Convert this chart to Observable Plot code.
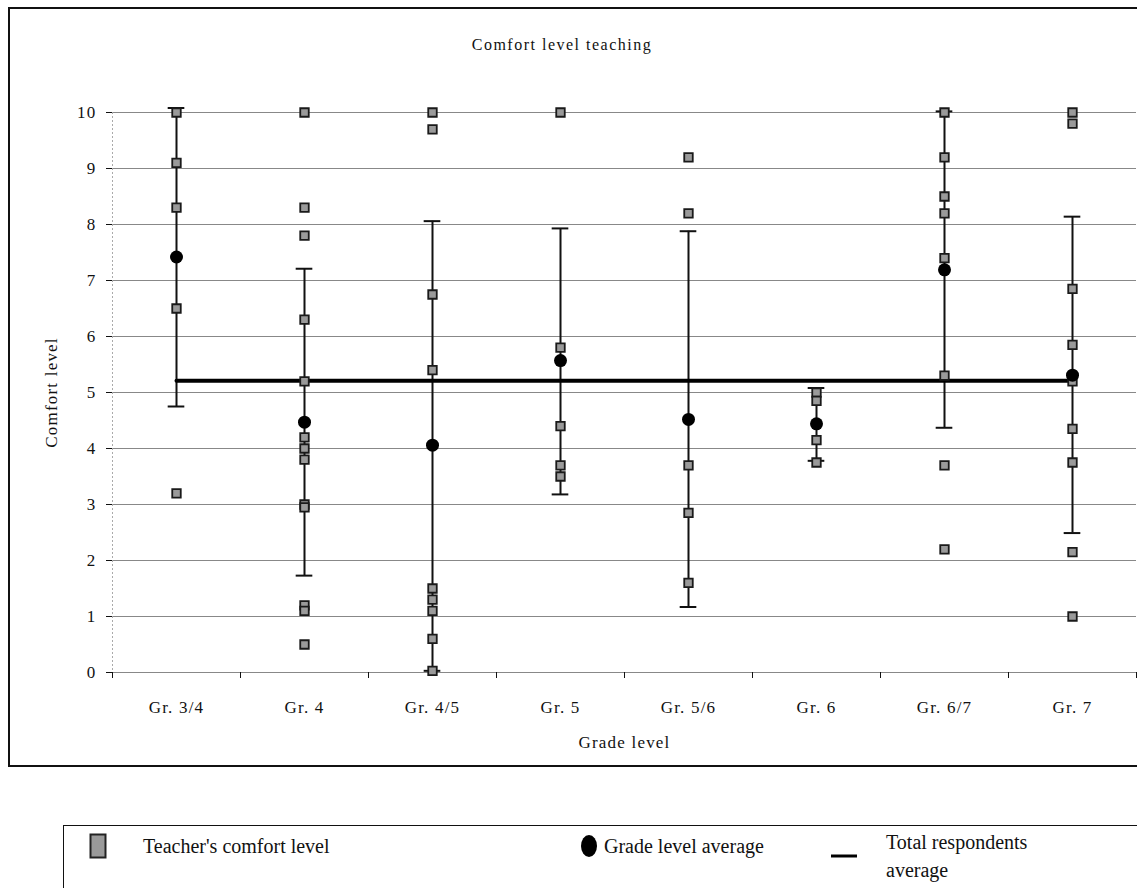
<!DOCTYPE html>
<html><head><meta charset="utf-8">
<script src="https://cdn.jsdelivr.net/npm/d3@7"></script>
<script src="https://cdn.jsdelivr.net/npm/@observablehq/plot@0.6"></script>
<style>
body{margin:0;background:#fff;font-family:"Liberation Serif","Times New Roman",serif;color:#111;}
#page{position:relative;width:1137px;height:888px;overflow:hidden;background:#fff;}
#frame{position:absolute;left:8px;top:7px;width:1150px;height:760px;border:2px solid #111;box-sizing:border-box;}
#title{position:absolute;left:0;width:1124px;top:36px;text-align:center;font-size:16px;letter-spacing:1.5px;}
#chart{position:absolute;left:0;top:0;}
#legend{position:absolute;left:63px;top:825px;width:1100px;height:90px;border:1.5px solid #111;box-sizing:border-box;font-size:20px;}
.li{position:absolute;line-height:28px;}
</style></head>
<body><div id="page">
<div id="frame"></div>
<div id="title">Comfort level teaching</div>
<div id="chart"></div>
<div id="legend">
  <svg style="position:absolute;left:25px;top:7px" width="20" height="28"><rect x="1.5" y="1.5" width="15" height="23" fill="#9a9a9a" stroke="#222" stroke-width="2"/></svg>
  <div class="li" style="left:79px;top:6px">Teacher's comfort level</div>
  <svg style="position:absolute;left:516px;top:7px" width="20" height="28"><ellipse cx="9" cy="13" rx="8" ry="11" fill="#000"/></svg>
  <div class="li" style="left:540px;top:6px">Grade level average</div>
  <svg style="position:absolute;left:767px;top:25px" width="30" height="10"><line x1="0" y1="5" x2="26" y2="5" stroke="#000" stroke-width="3"/></svg>
  <div class="li" style="left:822px;top:2px">Total respondents<br>average</div>
</div>
</div>
<script>
const categories = ["Gr. 3/4","Gr. 4","Gr. 4/5","Gr. 5","Gr. 5/6","Gr. 6","Gr. 6/7","Gr. 7"];
const gr34 = [10, 9.1, 8.3, 6.5, 3.2];
const gr4 = [10, 8.3, 7.8, 6.3, 5.2, 4.2, 4.0, 3.8, 3.0, 2.95, 1.2, 1.1, 0.5];
const gr45 = [10, 9.7, 6.75, 5.4, 1.5, 1.3, 1.1, 0.6, 0.03];
const gr5 = [10, 5.8, 4.4, 3.7, 3.5];
const gr56 = [9.2, 8.2, 3.7, 2.85, 1.6];
const gr6 = [5.0, 4.85, 4.15, 3.75];
const gr67 = [10, 9.2, 8.5, 8.2, 7.4, 5.3, 3.7, 2.2];
const gr7 = [10, 9.8, 6.85, 5.85, 5.2, 4.35, 3.75, 2.15, 1.0];
const gradeAverage = [7.42, 4.47, 4.06, 5.57, 4.52, 4.44, 7.19, 5.31];
const errorLow = [4.75, 1.73, 0.03, 3.18, 1.17, 3.78, 4.37, 2.49];
const errorHigh = [10.08, 7.21, 8.06, 7.93, 7.88, 5.08, 10.02, 8.14];
const totalAverage = 5.21;
const yTicks = [0,1,2,3,4,5,6,7,8,9,10];

const groups = [gr34, gr4, gr45, gr5, gr56, gr6, gr67, gr7];
const pos = c => categories.indexOf(c) + 0.5;
const teacherRows = [];
groups.forEach((arr, i) => arr.forEach(v => teacherRows.push({grade: categories[i], value: v})));
const summary = categories.map((c, i) => ({grade: c, avg: gradeAverage[i], lo: errorLow[i], hi: errorHigh[i]}));
const capHalf = 0.065;

const chart = Plot.plot({
  width: 1137, height: 770,
  marginLeft: 112, marginRight: 1, marginTop: 112, marginBottom: 98,
  x: {type: "linear", domain: [0, categories.length]},
  y: {domain: [0, 10]},
  style: {fontFamily: "'Liberation Serif','Times New Roman',serif", fontSize: "17px", color: "#111", background: "transparent", overflow: "visible", letterSpacing: "1.2px"},
  marks: [
    Plot.ruleY(yTicks, {stroke: "#888", strokeWidth: 1.1}),
    Plot.ruleX([0], {stroke: "#aaa", strokeDasharray: "2,2"}),
    Plot.axisY({ticks: yTicks, tickSize: 6, tickPadding: 10, fontSize: 17, label: "Comfort level", labelAnchor: "center", labelOffset: 68, labelArrow: "none"}),
    Plot.axisX({ticks: d3.range(0, categories.length + 1), tickSize: 6, tickFormat: () => "", label: null}),
    Plot.axisX({ticks: categories.map((c, i) => i + 0.5), tickSize: 0, tickPadding: 28, fontSize: 17, tickFormat: v => categories[Math.floor(v)], label: "Grade level", labelAnchor: "center", labelOffset: 75, labelArrow: "none"}),
    Plot.ruleX(summary, {x: d => pos(d.grade), y1: "lo", y2: "hi", stroke: "#111", strokeWidth: 2}),
    Plot.ruleY(summary, {y: "hi", x1: d => pos(d.grade) - capHalf, x2: d => pos(d.grade) + capHalf, stroke: "#111", strokeWidth: 2}),
    Plot.ruleY(summary, {y: "lo", x1: d => pos(d.grade) - capHalf, x2: d => pos(d.grade) + capHalf, stroke: "#111", strokeWidth: 2}),
    Plot.line(categories, {x: c => pos(c), y: () => totalAverage, stroke: "#000", strokeWidth: 4}),
    Plot.dot(teacherRows, {x: d => pos(d.grade), y: "value", symbol: "square", r: 4.8, fill: "#9a9a9a", stroke: "#1a1a1a", strokeWidth: 1.8}),
    Plot.dot(summary, {x: d => pos(d.grade), y: "avg", r: 6.5, fill: "#000"})
  ]
});
document.getElementById("chart").appendChild(chart);
</script>
</body></html>
